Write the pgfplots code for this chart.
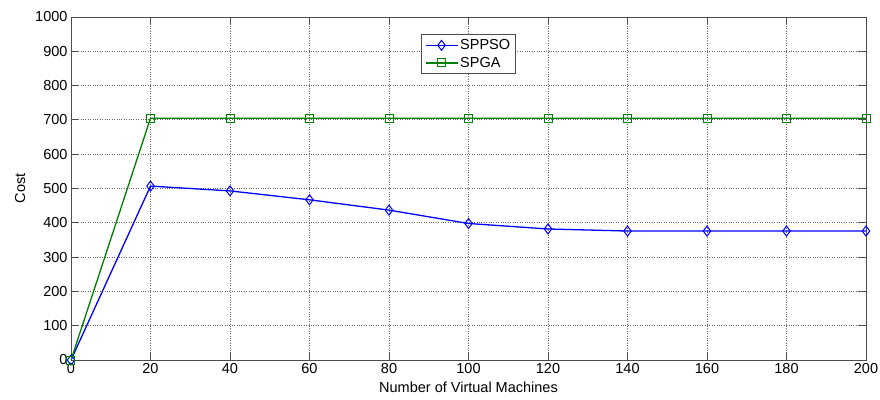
\documentclass[border=0pt]{standalone}
\usepackage{fontspec}
\setmainfont{Liberation Sans}
\usepackage{pgfplots}
\pgfplotsset{compat=1.18}
\usetikzlibrary{calc}
\begin{document}
\begin{tikzpicture}
\begin{axis}[
  scale only axis,
  width=795pt, height=343pt,
  xmin=0, xmax=200, ymin=0, ymax=1000,
  xtick={0,20,...,200}, ytick={0,100,...,1000},
  /pgf/number format/assume math mode=true,
  /pgf/number format/1000 sep={},
  tick label style={font=\fontsize{14.5pt}{16pt}\selectfont},
  label style={font=\fontsize{14.5pt}{16pt}\selectfont},
  xlabel={Number of Virtual Machines},
  ylabel={Cost},
  xlabel style={yshift=-1pt},
  ylabel style={yshift=3pt},
  tick align=inside,
  major tick length=7pt,
  tick style={black!70, line width=0.8pt},
  axis line style={black!70, line width=0.9pt},
  grid=major,
  major grid style={black!60, dotted, line width=0.8pt},
  legend style={at={(0.5,0.95)}, anchor=north, draw=black!70, line width=0.8pt,
    font=\fontsize{14.5pt}{16pt}\selectfont, inner sep=3pt, row sep=2pt},
  legend cell align=left,
  legend image code/.code={\draw[#1, mark repeat=2, mark phase=2] plot coordinates {(0pt,0pt) (16pt,0pt) (32pt,0pt)};},
]
\addplot[blue, line width=1.3pt, mark=diamond, mark size=5pt, mark options={solid, line width=1pt}]
coordinates {(0,0) (20,507) (40,493) (60,467) (80,437) (100,398) (120,382) (140,376) (160,376) (180,376) (200,376)};
\addlegendentry{SPPSO}
\addplot[black!50!green, line width=1.3pt, mark=square, mark size=4pt, mark options={solid, line width=1pt}]
coordinates {(0,0) (20,705) (40,705) (60,705) (80,705) (100,705) (120,705) (140,705) (160,705) (180,705) (200,705)};
\addlegendentry{SPGA}
\end{axis}
\pgfresetboundingbox
\path[use as bounding box] ($(current axis.south west)+(-71pt,-39pt)$) rectangle ($(current axis.north east)+(14pt,17pt)$);
\end{tikzpicture}
\end{document}
